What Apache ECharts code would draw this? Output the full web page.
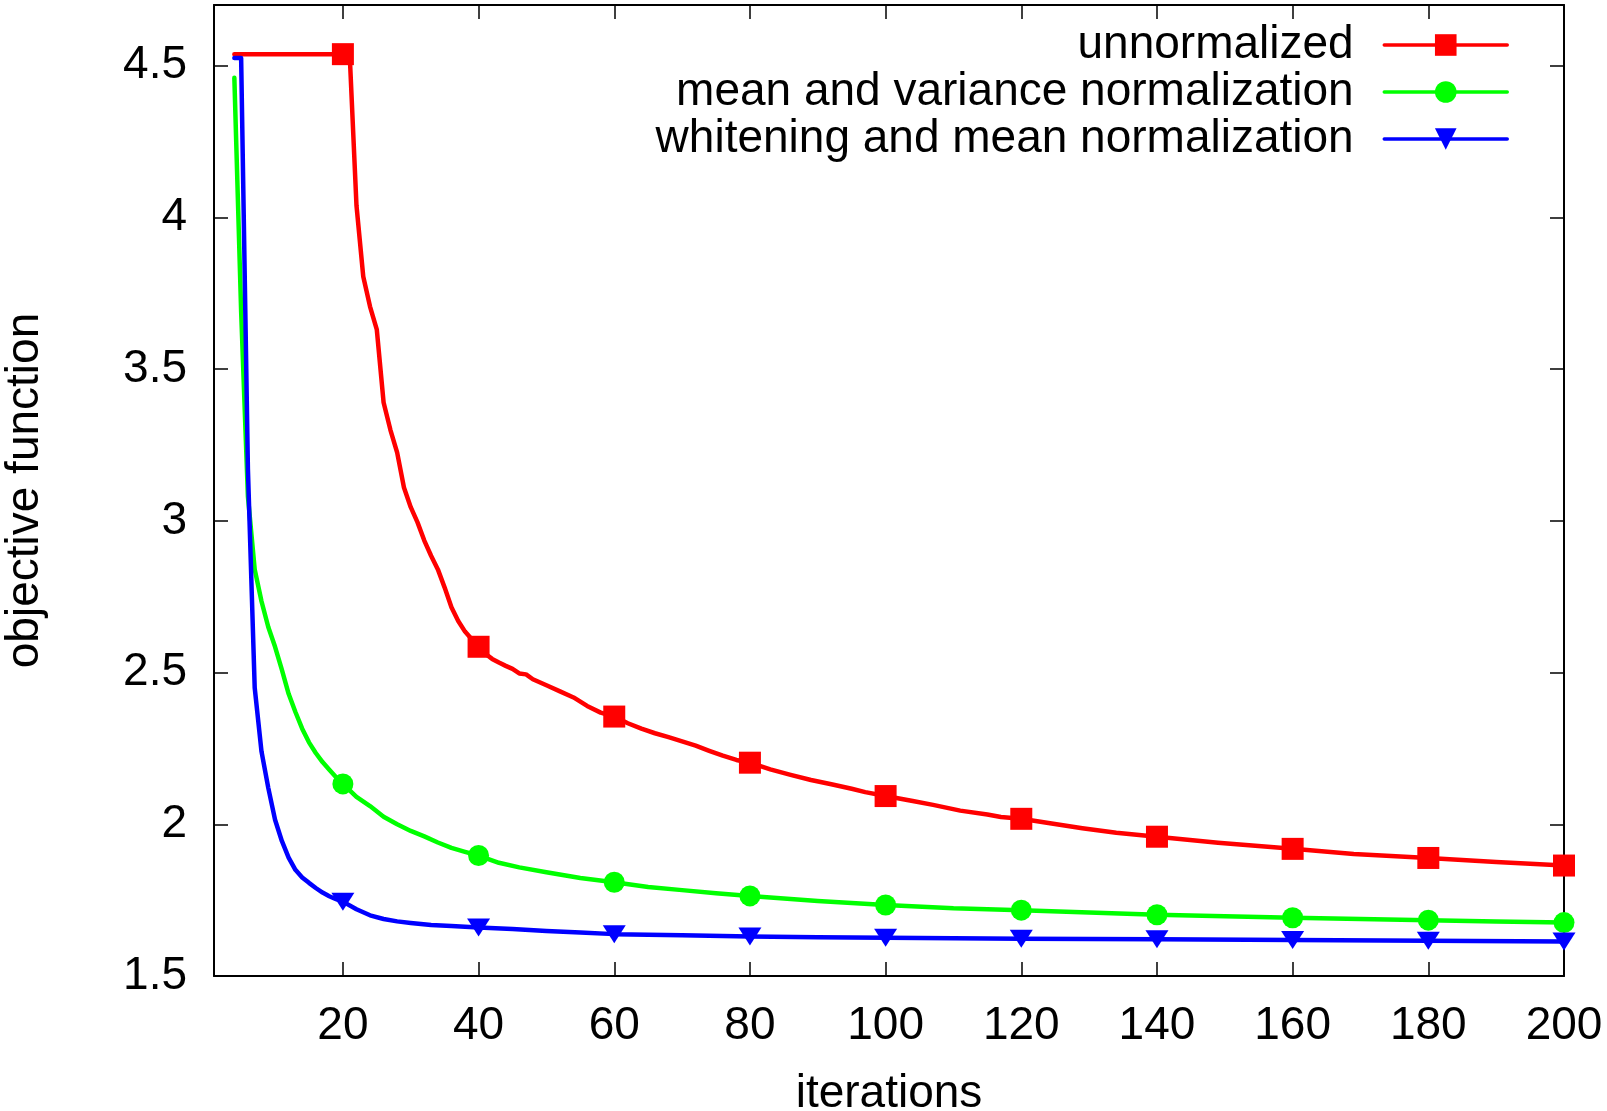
<!DOCTYPE html>
<html>
<head>
<meta charset="UTF-8">
<title>objective function</title>
<script src="https://cdn.jsdelivr.net/npm/echarts@6/dist/echarts.min.js"></script>
<style>
  html, body { margin: 0; padding: 0; background: #fff; }
  #chart { width: 1607px; height: 1111px; }
</style>
</head>
<body>
<div id="chart"></div>
<script>
// tick values
var xTicks = [20, 40, 60, 80, 100, 120, 140, 160, 180, 200];
var yTicks = [1.5, 2, 2.5, 3, 3.5, 4, 4.5];

// unnormalized
var redIter = [4, 20, 21, 22, 23, 24, 25, 26, 27, 28, 29, 30, 31, 32, 33, 34, 35, 36, 37, 38, 39, 40,
  41, 42, 43, 44, 45, 46, 47, 48, 50, 52, 54, 56, 58, 60, 62, 64, 66, 68, 70, 72, 74, 76, 78, 80,
  83, 86, 89, 92, 95, 97, 100, 104, 107, 111, 115, 117, 120, 124, 129, 134, 140, 149, 160, 169, 180, 190, 200];
var redObj = [4.538, 4.538, 4.538, 4.04, 3.805, 3.706, 3.63, 3.39, 3.30, 3.225, 3.11, 3.045, 2.995, 2.935, 2.885, 2.84, 2.78, 2.715, 2.67, 2.635, 2.61, 2.585,
  2.562, 2.545, 2.533, 2.522, 2.512, 2.497, 2.494, 2.478, 2.458, 2.438, 2.418, 2.39, 2.368, 2.355, 2.333, 2.315, 2.3, 2.287, 2.273, 2.259, 2.242, 2.226, 2.212, 2.203,
  2.181, 2.163, 2.146, 2.132, 2.117, 2.106, 2.093, 2.077, 2.064, 2.045, 2.032, 2.024, 2.018, 2.004, 1.987, 1.972, 1.959, 1.939, 1.919, 1.902, 1.889, 1.876, 1.864];

// mean and variance normalization
var greenIter = [4, 5, 6, 7, 8, 9, 10, 11, 12, 13, 14, 15, 16, 17, 18, 19, 20, 22, 24, 26, 28, 30, 32, 34, 36, 38, 40,
  43, 46, 50, 55, 60, 65, 70, 75, 80, 90, 100, 110, 120, 130, 140, 150, 160, 170, 180, 190, 200];
var greenObj = [4.46, 3.69, 3.08, 2.84, 2.735, 2.65, 2.585, 2.51, 2.43, 2.37, 2.315, 2.27, 2.235, 2.205, 2.18, 2.155, 2.133,
  2.09, 2.06, 2.025, 2.0, 1.978, 1.96, 1.94, 1.922, 1.909, 1.897,
  1.873, 1.858, 1.842, 1.823, 1.809, 1.793, 1.783, 1.773, 1.764, 1.747, 1.734, 1.723, 1.717, 1.709, 1.702, 1.697, 1.692, 1.688, 1.684, 1.68, 1.676];

// whitening and mean normalization
var blueIter = [4, 5, 6, 7, 8, 9, 10, 11, 12, 13, 14, 15, 16, 17, 18, 19, 20, 22, 24, 26, 28, 30, 33, 36, 40,
  45, 50, 55, 60, 70, 80, 90, 100, 120, 140, 160, 180, 200];
var blueObj = [4.525, 4.525, 3.17, 2.45, 2.24, 2.12, 2.015, 1.945, 1.89, 1.85, 1.825, 1.807, 1.79, 1.775, 1.763, 1.753, 1.745,
  1.72, 1.70, 1.688, 1.68, 1.675, 1.668, 1.665, 1.66,
  1.655, 1.648, 1.643, 1.638, 1.634, 1.63, 1.628, 1.626, 1.623, 1.621, 1.619, 1.616, 1.614];

var FONT = "'Liberation Sans', Arial, Helvetica, sans-serif";
var LINE_W = 4.5;

function pairs(xs, ys) {
  var out = [];
  for (var i = 0; i < xs.length; i++) out.push([xs[i], ys[i]]);
  return out;
}
// markers only every 20 iterations
function markerSize(size) {
  return function (v) { return v[0] % 20 === 0 ? size : 0; };
}

var myChart = echarts.init(document.getElementById('chart'));

var frameLine = { show: true, onZero: false, lineStyle: { color: '#000', width: 2 } };
var tick = { inside: true, length: 14, lineStyle: { color: '#000', width: 1.5 } };

function curve(name, xs, ys, col, symbol, size, extra) {
  var s = {
    name: name,
    type: 'line',
    data: pairs(xs, ys),
    symbol: symbol,
    symbolSize: markerSize(size),
    showAllSymbol: true,
    color: col,
    itemStyle: { color: col },
    lineStyle: { color: col, width: LINE_W, cap: 'round', join: 'round' },
    emphasis: { disabled: true }
  };
  return Object.assign(s, extra || {});
}

var option = {
  animation: false,
  backgroundColor: '#fff',
  grid: { left: 214, right: 43, top: 5, bottom: 135, outerBoundsMode: 'none' },
  legend: {
    orient: 'vertical',
    right: 93,
    top: 17,
    align: 'right',
    itemWidth: 123,
    itemHeight: 27,
    itemGap: 1,
    selectedMode: false,
    lineStyle: { width: 3.5 },
    textStyle: { fontSize: 46, fontFamily: FONT, color: '#000' },
    formatter: function (n) { return n + '  '; },
    data: ['unnormalized', 'mean and variance normalization', 'whitening and mean normalization']
  },
  xAxis: [{
    type: 'value', min: 1, max: 200, position: 'bottom',
    name: 'iterations', nameLocation: 'middle', nameGap: 95,
    nameTextStyle: { fontSize: 46, fontFamily: FONT, color: '#000' },
    axisLine: frameLine,
    axisTick: Object.assign({ customValues: xTicks }, tick),
    axisLabel: { customValues: xTicks, margin: 27, fontSize: 46, fontFamily: FONT, color: '#000' },
    splitLine: { show: false }
  }, {
    type: 'value', min: 1, max: 200, position: 'top',
    axisLine: frameLine,
    axisTick: Object.assign({ customValues: xTicks }, tick),
    axisLabel: { show: false },
    splitLine: { show: false }
  }],
  yAxis: [{
    type: 'value', min: 1.5, max: 4.7, position: 'left',
    name: 'objective function', nameLocation: 'middle', nameGap: 166,
    nameTextStyle: { fontSize: 46, fontFamily: FONT, color: '#000' },
    axisLine: frameLine,
    axisTick: Object.assign({ customValues: yTicks }, tick),
    axisLabel: { customValues: yTicks, margin: 27, fontSize: 46, fontFamily: FONT, color: '#000' },
    splitLine: { show: false }
  }, {
    type: 'value', min: 1.5, max: 4.7, position: 'right',
    axisLine: frameLine,
    axisTick: Object.assign({ customValues: yTicks }, tick),
    axisLabel: { show: false },
    splitLine: { show: false }
  }],
  series: [
    curve('unnormalized', redIter, redObj, '#ff0000', 'rect', 22, { z: 2 }),
    curve('mean and variance normalization', greenIter, greenObj, '#00ff00', 'circle', 21, { z: 3 }),
    curve('whitening and mean normalization', blueIter, blueObj, '#0000ff', 'triangle', [23, 18], { z: 4, symbolRotate: 180 })
  ]
};

myChart.setOption(option);
</script>
</body>
</html>
